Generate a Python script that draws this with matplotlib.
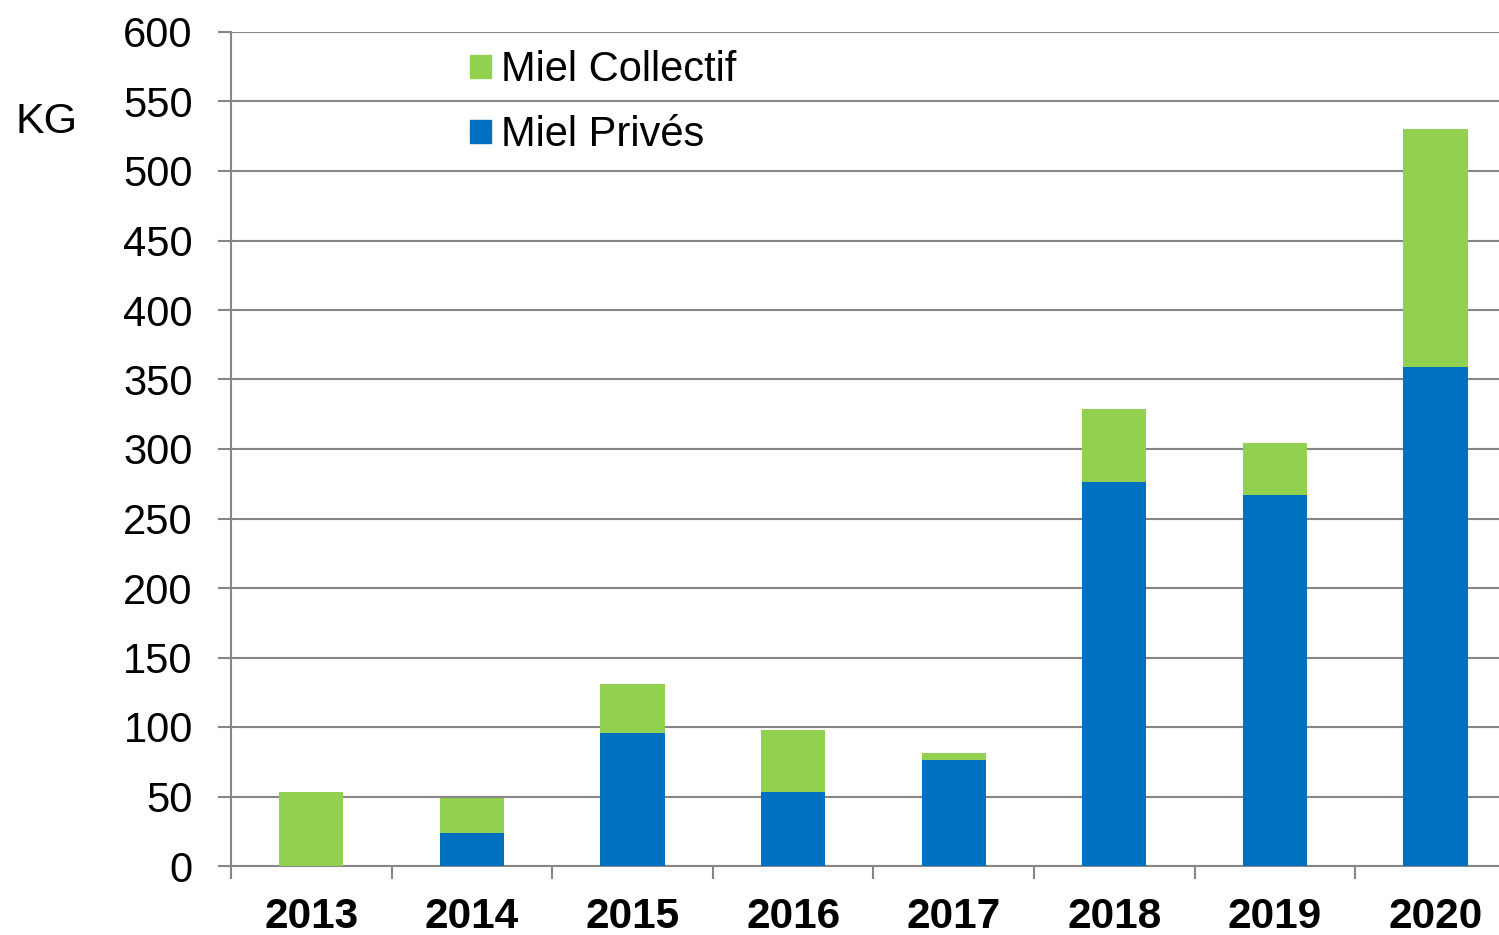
import matplotlib
matplotlib.use("Agg")
import matplotlib.pyplot as plt
import numpy as np
from matplotlib.patches import Patch

years = ["2013", "2014", "2015", "2016", "2017", "2018", "2019", "2020"]
miel_prives = [0, 24, 96, 53, 76, 276, 267, 359]
miel_collectif = [53, 25, 35, 45, 5, 53, 37, 171]
yticks = list(range(0, 601, 50))

blue = "#0070C0"
green = "#92D050"
grid_c = "#868686"

plt.rcParams['font.family'] = ['Liberation Sans', 'DejaVu Sans']

fig = plt.figure(figsize=(14.99, 9.35), dpi=100)
W, H = 1499, 935
ax = fig.add_axes([231 / W, (H - 866) / H, (W - 231) / W, (866 - 32) / H])

x = np.arange(len(years))
ax.bar(x, miel_prives, width=0.4, color=blue, zorder=3)
ax.bar(x, miel_collectif, width=0.4, bottom=miel_prives, color=green, zorder=3)

ax.set_ylim(0, 600)
ax.set_xlim(-0.5, -0.5 + (W - 231) / 160.6)
ax.set_yticks(yticks)
ax.set_yticklabels([str(v) for v in yticks], fontsize=30)
ax.yaxis.grid(True, color=grid_c, linewidth=1.5, zorder=0)
ax.tick_params(axis='y', length=9.5, width=1.5, color=grid_c, pad=18, direction='out')

ax.set_xticks(x)
ax.set_xticklabels(years, fontsize=30.5, fontweight='bold')
ax.tick_params(axis='x', which='major', length=0, pad=22)
ax.set_xticks(np.arange(len(years)) - 0.5, minor=True)
ax.tick_params(axis='x', which='minor', length=9, width=1.5, color=grid_c)

for s in ['top', 'right']:
    ax.spines[s].set_visible(False)
for s in ['left', 'bottom']:
    ax.spines[s].set_color(grid_c)
    ax.spines[s].set_linewidth(1.5)

fig.text(47 / W, 1 - 122 / H, "KG", fontsize=31, ha='center', va='center')

handles = [Patch(color=green, label="Miel Collectif"), Patch(color=blue, label="Miel Privés")]
ax.legend(handles=handles, loc='upper left', bbox_to_anchor=((441 - 231) / (W - 231), 1.013),
          frameon=False, fontsize=30, handlelength=0.5, handleheight=0.5,
          handletextpad=0.25, labelspacing=0.6, borderaxespad=0.3)

fig.savefig("out.png", dpi=100)
